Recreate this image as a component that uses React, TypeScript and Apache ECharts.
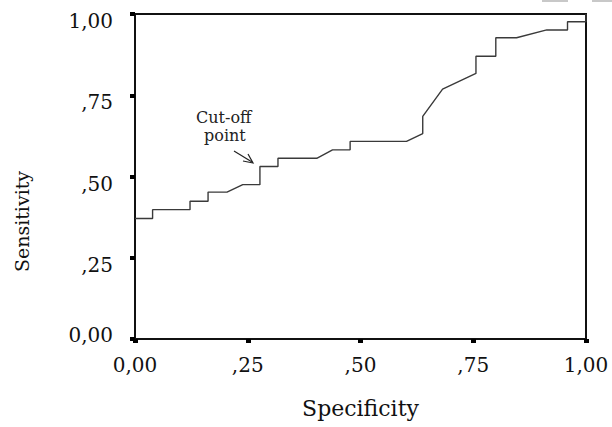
import React, { useEffect, useRef } from "react";
import * as echarts from "echarts";

// ROC curve points: [1 - specificity axis value (shown as "Specificity"), sensitivity]
const specificity = [
  0, 0.039, 0.039, 0.122, 0.122, 0.162, 0.162, 0.204, 0.239, 0.277, 0.277,
  0.317, 0.317, 0.403, 0.438, 0.477, 0.477, 0.602, 0.638, 0.638, 0.682,
  0.756, 0.756, 0.8, 0.8, 0.846, 0.913, 0.959, 0.959, 1.0, 1.0,
];
const sensitivity = [
  0.371, 0.371, 0.398, 0.398, 0.424, 0.424, 0.452, 0.452, 0.475, 0.475, 0.531,
  0.531, 0.556, 0.556, 0.582, 0.582, 0.608, 0.608, 0.632, 0.685, 0.769,
  0.817, 0.87, 0.87, 0.927, 0.927, 0.951, 0.951, 0.976, 0.976, 1.0,
];
const tickValues = [0, 0.25, 0.5, 0.75, 1];
const tickLabels = ["0,00", ",25", ",50", ",75", "1,00"];

const labelFor = (v: number) => {
  const i = tickValues.findIndex((t) => Math.abs(t - v) < 1e-6);
  return i >= 0 ? tickLabels[i] : "";
};

export default function App() {
  const ref = useRef<HTMLDivElement>(null);
  useEffect(() => {
    if (!ref.current) return;
    const chart = echarts.init(ref.current, null, { renderer: "svg" });
    const data = specificity.map((x, i) => [x, sensitivity[i]]);
    const axisFont = { fontFamily: "DejaVu Serif", fontSize: 20, color: "#111" };
    chart.setOption({
      animation: false,
      backgroundColor: "#ffffff",
      grid: {
        left: 135,
        right: 26,
        top: 14,
        bottom: 88,
        show: true,
        borderColor: "#111",
        borderWidth: 2,
        backgroundColor: "transparent",
      },
      xAxis: {
        type: "value",
        min: 0,
        max: 1,
        interval: 0.25,
        name: "Specificity",
        nameLocation: "middle",
        nameGap: 58,
        nameTextStyle: { fontFamily: "DejaVu Serif", fontSize: 22, color: "#111" },
        axisLine: { show: true, onZero: false, lineStyle: { color: "#111", width: 2 } },
        axisTick: { show: true, inside: false, length: 4, lineStyle: { color: "#000", width: 5 } },
        axisLabel: { ...axisFont, margin: 16, formatter: (v: number) => labelFor(v) },
        splitLine: { show: false },
      },
      yAxis: {
        type: "value",
        min: 0,
        max: 1,
        interval: 0.25,
        name: "Sensitivity",
        nameLocation: "middle",
        nameGap: 104,
        nameTextStyle: {
          fontFamily: "DejaVu Serif",
          fontSize: 19,
          color: "#111",
          padding: [0, 90, 0, 0],
        },
        axisLine: { show: true, onZero: false, lineStyle: { color: "#111", width: 2 } },
        axisTick: { show: true, inside: false, length: 5, lineStyle: { color: "#000", width: 4 } },
        axisLabel: {
          ...axisFont,
          margin: 22,
          formatter: (v: number) => (v === 0 ? `{b|${labelFor(v)}}` : `{a|${labelFor(v)}}`),
          rich: {
            a: { ...axisFont, padding: [14, 0, 0, 0] },
            b: { ...axisFont, padding: [0, 0, 8, 0] },
          },
        },
        splitLine: { show: false },
      },
      series: [
        {
          type: "line",
          data,
          symbol: "none",
          lineStyle: { color: "#3a3a3a", width: 1.4 },
        },
      ],
      graphic: [
        {
          type: "text",
          left: 196,
          top: 109,
          style: {
            text: "Cut-off",
            fontFamily: "DejaVu Serif",
            fontSize: 16,
            fill: "#222",
          },
        },
        {
          type: "text",
          left: 204,
          top: 127,
          style: {
            text: "point",
            fontFamily: "DejaVu Serif",
            fontSize: 16,
            fill: "#222",
          },
        },
        {
          type: "line",
          shape: { x1: 234, y1: 151, x2: 252, y2: 162 },
          style: { stroke: "#222", lineWidth: 1.2 },
        },
        {
          type: "polyline",
          shape: { points: [[243, 161], [253, 163], [248, 154]] },
          style: { stroke: "#222", lineWidth: 1.2, fill: "none" },
        },
        {
          type: "rect",
          shape: { x: 542, y: 0, width: 26, height: 2 },
          style: { fill: "#c8c8c8" },
        },
        {
          type: "rect",
          shape: { x: 592, y: 0, width: 20, height: 2 },
          style: { fill: "#c8c8c8" },
        },
      ],
    });
    return () => chart.dispose();
  }, []);
  return (
    <div
      ref={ref}
      style={{ position: "fixed", left: 0, top: 0, width: 612, height: 427 }}
    />
  );
}
